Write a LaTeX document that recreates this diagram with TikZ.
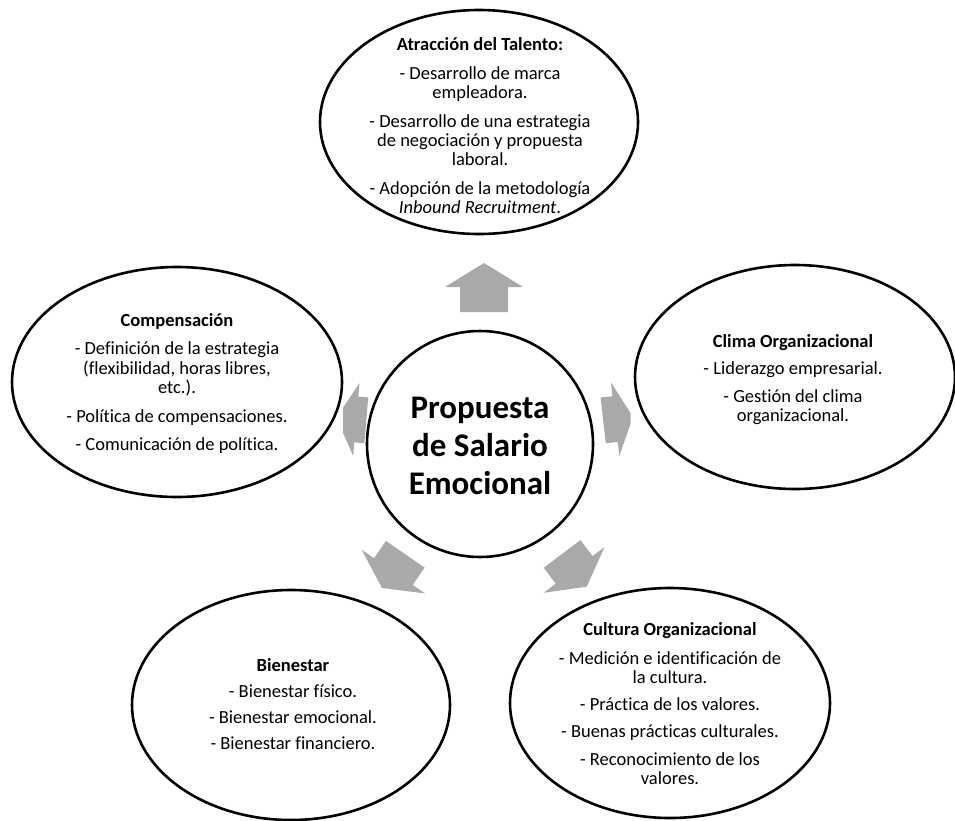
\documentclass[tikz,border=0pt]{standalone}
\usepackage{fontspec}
\setmainfont{Carlito}[Ligatures=NoCommon]
\usetikzlibrary{shapes.geometric}
\definecolor{arrowgray}{RGB}{169,169,169}
% keep every line on its baseline grid, even with accents or parentheses
\newcommand{\evenlines}{\setlength{\lineskiplimit}{-40pt}}
\tikzset{
  bubble/.style={ellipse, draw=black, line width=2.6pt, fill=white, inner sep=0pt},
  bubbletext/.style={align=center, inner sep=0pt,
    font=\fontsize{18.5}{19.2}\selectfont\evenlines},
  hub/.style={circle, draw=black, line width=2.6pt, fill=white, minimum size=226pt, inner sep=0pt},
  hubtext/.style={align=center, inner sep=0pt,
    font=\fontsize{33}{38}\selectfont\bfseries\evenlines},
  blockarrow/.style={fill=arrowgray, draw=none}
}
% block arrow: tip x, tip y, direction, head length, head width, shaft width, shaft length
\newcommand{\radialarrow}[7]{%
  \begin{scope}[shift={(#1,#2)}, rotate=#3]
    \fill[blockarrow] (0,0) -- (-#4,#5/2) -- (-#4,#6/2) -- (-#4-#7,#6/2)
      -- (-#4-#7,-#6/2) -- (-#4,-#6/2) -- (-#4,-#5/2) -- cycle;
  \end{scope}}
\begin{document}
\begin{tikzpicture}[x=1pt,y=1pt]
\useasboundingbox (0,0) rectangle (955,-820);

% arrows radiating from the hub (drawn first, bubbles sit on top)
\radialarrow{484}{-263}{90}{24}{78}{48}{25}
\begin{scope}
  \clip (0,0) rectangle (630.5,-820);
  \radialarrow{633}{-417}{6.5}{18}{74}{46}{12}
\end{scope}
\begin{scope}
  \clip (343,0) rectangle (955,-820);
  \radialarrow{336.4}{-417.7}{175}{20}{73}{46}{10}
\end{scope}
\radialarrow{382}{-588}{-124.6}{20}{77}{47}{21}
\radialarrow{586.7}{-586.7}{-53.1}{21}{76}{46}{20}

% satellite bubbles
\node[bubble, minimum width=318pt, minimum height=224pt] (talento) at (479,-122) {};
\node[bubble, minimum width=330pt, minimum height=230pt] (compensacion) at (177,-382) {};
\node[bubble, minimum width=320pt, minimum height=224pt] (clima) at (795,-377) {};
\node[bubble, minimum width=318pt, minimum height=230pt] (bienestar) at (291,-705) {};
\node[bubble, minimum width=320pt, minimum height=230pt] (cultura) at (670,-703) {};

% hub
\node[hub] (hub) at (480,-444) {};
\node[hubtext] (hubt) at (480,-446) {Propuesta\\de Salario\\Emocional};

% bubble texts
\node[bubbletext] (talentot) at (480,-125.5) {\textbf{Atracción del Talento:}\\[9.5pt]
- Desarrollo de marca\\empleadora.\\[9.5pt]
- Desarrollo de una estrategia\\de negociación y propuesta\\laboral.\\[9.5pt]
- Adopción de la metodología\\\textit{Inbound Recruitment}.};

\node[bubbletext] (compensaciont) at (177,-383.5) {\textbf{Compensación}\\[9.5pt]
- Definición de la estrategia\\(flexibilidad, horas libres,\\etc.).\\[9.5pt]
- Política de compensaciones.\\[9.5pt]
- Comunicación de política.};

\node[bubbletext] (climat) at (793,-379.5) {\textbf{Clima Organizacional}\\[8pt]
- Liderazgo empresarial.\\[8pt]
- Gestión del clima\\organizacional.};

\node[bubbletext] (bienestart) at (293,-704) {\textbf{Bienestar}\\[7pt]
- Bienestar físico.\\[7pt]
- Bienestar emocional.\\[7pt]
- Bienestar financiero.};

\node[bubbletext] (culturat) at (670,-703.5) {\textbf{Cultura Organizacional}\\[9.5pt]
- Medición e identificación de\\la cultura.\\[8pt]
- Práctica de los valores.\\[8pt]
- Buenas prácticas culturales.\\[8pt]
- Reconocimiento de los\\valores.};
\end{tikzpicture}
\end{document}
